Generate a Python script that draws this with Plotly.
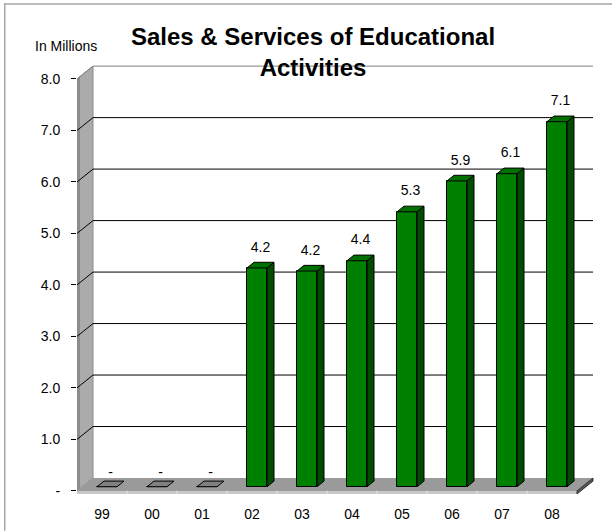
import plotly.graph_objects as go

# ---- data ----
years = ["99", "00", "01", "02", "03", "04", "05", "06", "07", "08"]
sales = [0.0, 0.0, 0.0, 4.25, 4.19, 4.39, 5.34, 5.94, 6.08, 7.09]
y_ticks = [0, 1, 2, 3, 4, 5, 6, 7, 8]
y_ticktext = ["-", "1.0", "2.0", "3.0", "4.0", "5.0", "6.0", "7.0", "8.0"]
title_text = "Sales & Services of Educational<br>Activities"
unit_text = "In Millions"

# ---- geometry / style ----
W_FIG, H_FIG = 612, 531
PXX, PXY = 50.0, 51.5          # pixels per unit
L, R, T = 77, 7, 60
AX0_PX = 491                    # pixel row of y=0
YMIN = -0.08
B = H_FIG - (AX0_PX + (-YMIN) * PXY)
XMAX = (W_FIG - L - R) / PXX
YMAX = (AX0_PX - T) / PXY
PLOT_H = H_FIG - T - B
PLOT_W = W_FIG - L - R

WALL_DX, WALL_DY = 0.32, 0.25   # 3D depth of walls
BAR_OX, BAR_OY = 0.10, 0.08     # bar plane offset
BAR_DX, BAR_DY = 0.14, 0.11     # bar depth
BAR_W = 0.40
N = len(years)

FRONT = "#008000"
TOP = "#007000"
SIDE = "#004c00"
FONT = "Liberation Sans, Arial, sans-serif"


def px2paper_x(px):
    return (px - L) / PLOT_W


def px2paper_y(py):
    return ((H_FIG - B) - py) / PLOT_H


def poly(pts):
    return "M " + " L ".join(f"{x},{y}" for x, y in pts) + " Z"


shapes = []
# left wall
shapes.append(dict(type="path", xref="x", yref="y", layer="below",
                   path=poly([(0, 0), (0, y_ticks[-1]), (WALL_DX, y_ticks[-1] + WALL_DY), (WALL_DX, WALL_DY)]),
                   fillcolor="#ababab", line=dict(color="#8a8a8a", width=1)))
shapes.append(dict(type="path", xref="x", yref="y", layer="below",
                   path=poly([(0, 0), (0, y_ticks[-1]), (0.06, y_ticks[-1] + 0.05), (0.06, 0.05)]),
                   fillcolor="#8c8c8c", line=dict(width=0)))
# floor
shapes.append(dict(type="path", xref="x", yref="y", layer="below",
                   path=poly([(0, 0), (N, 0), (N + WALL_DX, WALL_DY), (WALL_DX, WALL_DY)]),
                   fillcolor="#9a9a9a", line=dict(width=0)))
shapes.append(dict(type="path", xref="x", yref="y", layer="below",
                   path=poly([(0, 0), (N, 0), (N, -0.06), (0, -0.06)]),
                   fillcolor="#c8c8c8", line=dict(width=0)))
shapes.append(dict(type="path", xref="x", yref="y", layer="below",
                   path=poly([(N, 0), (N + WALL_DX, WALL_DY), (N + WALL_DX, WALL_DY - 0.06), (N, -0.06)]),
                   fillcolor="#555555", line=dict(color="#333333", width=1)))
for i in range(1, N):
    shapes.append(dict(type="line", xref="x", yref="y", layer="below",
                       x0=i, x1=i, y0=0, y1=-0.06, line=dict(color="#e8e8e8", width=1)))
# gridlines (back wall + slanted on left wall)
for v in y_ticks[1:]:
    col = "#808080" if v == y_ticks[-1] else "#000000"
    shapes.append(dict(type="path", xref="x", yref="y", layer="below",
                       path=f"M 0,{v} L {WALL_DX},{v + WALL_DY} L {N + WALL_DX},{v + WALL_DY}",
                       line=dict(color=col, width=1)))
# image frame (top and left edges)
shapes.append(dict(type="rect", xref="paper", yref="paper", layer="above",
                   x0=px2paper_x(4), x1=px2paper_x(W_FIG),
                   y0=px2paper_y(5), y1=px2paper_y(3), fillcolor="#bdbdbd", line=dict(width=0)))
shapes.append(dict(type="rect", xref="paper", yref="paper", layer="above",
                   x0=px2paper_x(4), x1=px2paper_x(5.5),
                   y0=px2paper_y(3), y1=px2paper_y(H_FIG), fillcolor="#a8a8a8", line=dict(width=0)))

fig = go.Figure()

# front faces
xc = [i + 0.5 + BAR_OX for i in range(N)]
fig.add_trace(go.Bar(x=xc, y=sales, base=BAR_OY, width=BAR_W,
                     marker=dict(color=FRONT, line=dict(color="#000000", width=1)),
                     hoverinfo="skip", showlegend=False))

# side and top faces
for x, v in zip(xc, sales):
    x0, x1 = x - BAR_W / 2, x + BAR_W / 2
    yb, yt = BAR_OY, BAR_OY + v
    if v > 0:
        fig.add_trace(go.Scatter(
            x=[x1, x1, x1 + BAR_DX, x1 + BAR_DX, x1],
            y=[yb, yt, yt + BAR_DY, yb + BAR_DY, yb],
            mode="lines", fill="toself", fillcolor=SIDE,
            line=dict(color="#000000", width=1), hoverinfo="skip", showlegend=False))
    fig.add_trace(go.Scatter(
        x=[x0, x1, x1 + BAR_DX, x0 + BAR_DX, x0],
        y=[yt, yt, yt + BAR_DY, yt + BAR_DY, yt],
        mode="lines", fill="toself", fillcolor=TOP if v > 0 else "#808080",
        line=dict(color="#000000", width=1), hoverinfo="skip", showlegend=False))

# data labels
labels = [f"{v:.1f}" if v > 0 else "-" for v in sales]
fig.add_trace(go.Scatter(
    x=[x + BAR_DX / 2 for x in xc],
    y=[BAR_OY + v + BAR_DY + (0.14 if v > 0 else 0.02) for v in sales],
    mode="text", text=labels, textposition="top center",
    textfont=dict(family=FONT, size=14, color="#000000"),
    hoverinfo="skip", showlegend=False, cliponaxis=False))

fig.update_layout(
    width=W_FIG, height=H_FIG,
    margin=dict(l=L, r=R, t=T, b=B, autoexpand=False),
    paper_bgcolor="white", plot_bgcolor="white",
    font=dict(family=FONT, size=14, color="#000000"),
    title=dict(text=title_text, x=313 / W_FIG, xref="container", xanchor="center",
               y=1 - 45 / H_FIG, yref="container", yanchor="middle",
               font=dict(family=FONT, size=24, color="#000000", weight="bold")),
    shapes=shapes,
    annotations=[dict(text=unit_text, xref="paper", yref="paper",
                      x=px2paper_x(66), y=px2paper_y(46), xanchor="center", yanchor="middle",
                      showarrow=False, font=dict(family=FONT, size=14, color="#000000"))],
    xaxis=dict(range=[0, XMAX], showgrid=False, zeroline=False, showline=False,
               tickmode="array", tickvals=[i + 0.5 for i in range(N)], ticktext=years,
               ticks="", ticklabelstandoff=9, automargin=False, fixedrange=True),
    yaxis=dict(range=[YMIN, YMAX], showgrid=False, zeroline=False,
               showline=False,
               tickmode="array", tickvals=y_ticks, ticktext=y_ticktext,
               ticks="outside", ticklen=5, tickcolor="#000000",
               ticklabelstandoff=8, automargin=False, fixedrange=True),
    bargap=0,
)

fig.write_html("out.html", config={"displayModeBar": False},
               post_script="document.body.style.margin='0';document.body.style.overflow='hidden';")
